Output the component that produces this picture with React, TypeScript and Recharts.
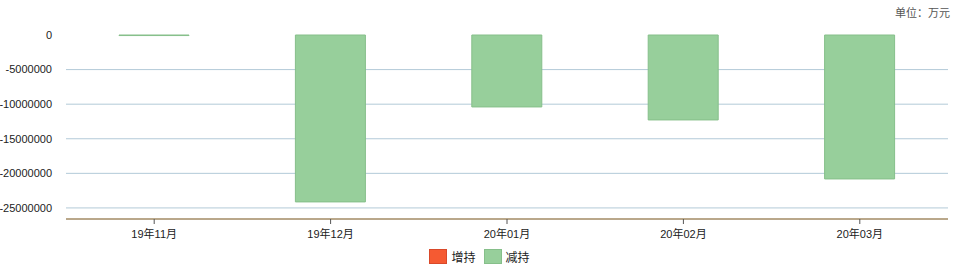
import { BarChart, Bar, XAxis, YAxis, CartesianGrid } from 'recharts'

const months = ['19年11月', '19年12月', '20年01月', '20年02月', '20年03月']
const increaseValues: (number | null)[] = [null, null, null, null, null]
const decreaseValues = [-80000, -24130000, -10400000, -12280000, -20810000]
const yTicks = [-25000000, -20000000, -15000000, -10000000, -5000000, 0]

const seriesNames = ['增持', '减持']
const seriesColors = ['#f55a32', '#97cf9b']
const seriesStrokes = ['#d9492a', '#86bf8a']

const data = months.map((month, i) => ({
  month,
  increase: increaseValues[i],
  decrease: decreaseValues[i],
}))

const FONT = '"Liberation Sans", "Noto Sans CJK SC", sans-serif'
const PLOT_TOP = 35

// skip the line along the top edge (value 0)
function GridLine(props: any) {
  const { x1, x2, y1, y2 } = props
  if (y1 <= PLOT_TOP + 1) return <g />
  return <line x1={x1} x2={x2} y1={y1} y2={y2} stroke="#b3cad8" strokeWidth={1} />
}

function ChartLegend() {
  return (
    <div
      style={{
        position: 'absolute',
        top: 248,
        left: 0,
        width: 959,
        display: 'flex',
        justifyContent: 'center',
        fontFamily: FONT,
        fontSize: 12,
        color: '#222',
      }}
    >
      {seriesNames.map((name, i) => (
        <div key={name} style={{ display: 'flex', alignItems: 'center', marginLeft: i ? 8 : 0 }}>
          <span
            style={{
              display: 'inline-block',
              width: 16,
              height: 13,
              background: seriesColors[i],
              border: `1px solid ${seriesStrokes[i]}`,
              marginRight: 4,
            }}
          />
          <span>{name}</span>
        </div>
      ))}
    </div>
  )
}

export default function App() {
  return (
    <div style={{ position: 'absolute', left: 0, top: 0, width: 959, height: 278, background: '#fff' }}>
      <div
        style={{
          position: 'absolute',
          top: 4,
          right: 9,
          fontFamily: '"Noto Sans CJK SC", serif',
          fontSize: 11,
          color: '#555',
        }}
      >
        单位：万元
      </div>
      <BarChart
        width={959}
        height={278}
        data={data}
        margin={{ top: PLOT_TOP, right: 11, bottom: 0, left: 0 }}
      >
        <CartesianGrid vertical={false} horizontal={(p: any) => <GridLine {...p} />} />
        <XAxis
          dataKey="month"
          axisLine={{ stroke: '#9a6a2a', strokeWidth: 1 }}
          tickLine={{ stroke: '#555' }}
          tickSize={5}
          tickMargin={6}
          tick={{ fill: '#222', fontSize: 11, fontFamily: FONT }}
          height={59}
        />
        <YAxis
          domain={[-26600000, 0]}
          ticks={yTicks}
          interval={0}
          axisLine={false}
          tickLine={false}
          width={66}
          tickMargin={8}
          tick={{ fill: '#222', fontSize: 11, fontFamily: FONT }}
        />
        <Bar
          dataKey="increase"
          name={seriesNames[0]}
          stackId="a"
          barSize={70}
          fill={seriesColors[0]}
          stroke={seriesStrokes[0]}
          isAnimationActive={false}
        />
        <Bar
          dataKey="decrease"
          name={seriesNames[1]}
          stackId="a"
          barSize={70}
          fill={seriesColors[1]}
          stroke={seriesStrokes[1]}
          isAnimationActive={false}
        />
      </BarChart>
      <ChartLegend />
    </div>
  )
}
